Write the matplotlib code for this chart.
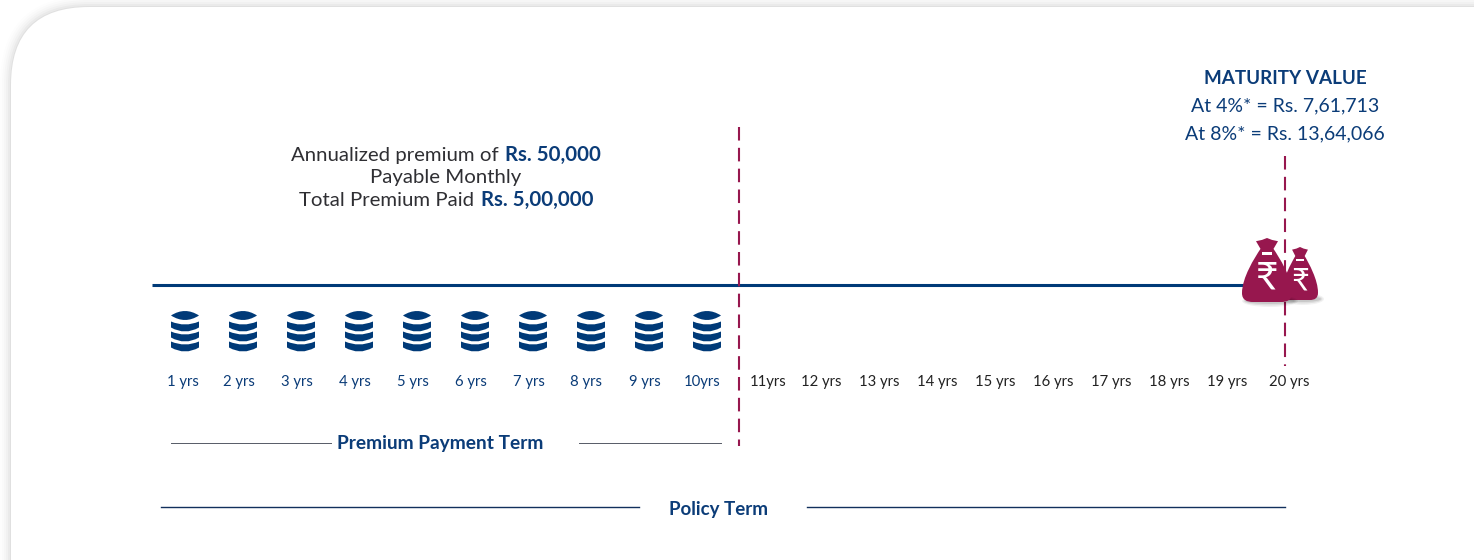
import matplotlib
matplotlib.use('Agg')
import matplotlib.pyplot as plt
from matplotlib.patches import FancyBboxPatch, PathPatch, Ellipse
from matplotlib.path import Path

years = ['1 yrs', '2 yrs', '3 yrs', '4 yrs', '5 yrs', '6 yrs', '7 yrs', '8 yrs', '9 yrs', '10yrs',
         '11yrs', '12 yrs', '13 yrs', '14 yrs', '15 yrs', '16 yrs', '17 yrs', '18 yrs', '19 yrs', '20 yrs']
premium_years = 10
maturity_lines = ['At 4%* = Rs. 7,61,713', 'At 8%* = Rs. 13,64,066']

NAVY = '#0b3c78'
LINE = '#003a78'
WINE = '#97174e'
GREY = '#2f2f33'

plt.rcParams['font.family'] = ['Lato', 'DejaVu Sans']
fig = plt.figure(figsize=(14.74, 5.6), dpi=100)
ax = fig.add_axes([0, 0, 1, 1])
ax.set_xlim(0, 1474)
ax.set_ylim(560, 0)
ax.axis('off')


def year_x(i):
    return 185 + 58 * i


# card with soft shadow
for grow, alpha in [(11, .006), (9, .01), (7, .014), (5, .02), (3, .028), (1, .04)]:
    ax.add_patch(FancyBboxPatch((11 - grow, 7 - grow), 1700, 800,
                                boxstyle=f'round,pad=0,rounding_size={78 + grow}',
                                lw=0, fc='black', alpha=alpha))
ax.add_patch(FancyBboxPatch((11, 7), 1700, 800, boxstyle='round,pad=0,rounding_size=78', lw=0, fc='white'))


def coins(cx):
    M, Q, E = Path.MOVETO, Path.CURVE3, Path.CLOSEPOLY
    top = [(cx - 14, 315.5), (cx, 306.5), (cx + 14, 315.5), (cx, 324.5), (cx - 14, 315.5), (cx - 14, 315.5)]
    ax.add_patch(PathPatch(Path(top, [M, Q, Q, Q, Q, E]), fc=LINE, lw=0))
    for y0 in (321.5, 331.5, 341.5):
        verts = [(cx - 14, y0), (cx, y0 + 6), (cx + 14, y0), (cx + 14, y0 + 6),
                 (cx, y0 + 14), (cx - 14, y0 + 6), (cx - 14, y0)]
        codes = [M, Q, Q, Path.LINETO, Q, Q, E]
        ax.add_patch(PathPatch(Path(verts, codes), fc=LINE, lw=0))


def bag(cx, top, w, h, size, z):
    # w and h are the overall bag size, neck sits at the top
    s = w / 2
    neck = top + h * .17
    bot = top + h
    M, L, C = Path.MOVETO, Path.LINETO, Path.CURVE4
    verts = [(cx - s * .44, top + h * .05), (cx - s * .2, top + h * .03), (cx, top), (cx + s * .2, top + h * .03),
             (cx + s * .44, top + h * .05), (cx + s * .26, neck),
             (cx + s * .5, neck + h * .14), (cx + s * 1.0, bot - h * .38), (cx + s, bot - h * .14),
             (cx + s, bot - h * .03), (cx + s * .8, bot), (cx + s * .55, bot),
             (cx - s * .55, bot),
             (cx - s * .8, bot), (cx - s, bot - h * .03), (cx - s, bot - h * .14),
             (cx - s * 1.0, bot - h * .38), (cx - s * .5, neck + h * .14), (cx - s * .26, neck),
             (cx - s * .44, top + h * .05)]
    codes = [M, L, L, L, L, L, C, C, C, C, C, C, L, C, C, C, C, C, C, L]
    # shadow under the bag
    for grow, alpha in [(6, .05), (3, .08), (0, .1)]:
        ax.add_patch(Ellipse((cx + 3, bot - 1), w + grow, 6 + grow, fc='black', alpha=alpha, lw=0, zorder=z - .5))
    ax.add_patch(PathPatch(Path(verts, codes), fc=WINE, lw=0, zorder=z))
    ax.add_patch(plt.Rectangle((cx - s * .2, top + h * .22), s * .4, h * .05, fc='white', lw=0, zorder=z + .1))
    ax.text(cx, top + h * .64, '₹', color='white', fontsize=size, ha='center', va='center', zorder=z + .1)


# main timeline
ax.plot([152, 1250], [285, 285], color=LINE, lw=2.2, solid_capstyle='butt', zorder=2)

# dashed markers
dash = (0, (6.5, 3.5))
ax.plot([739, 739], [127, 446], color=WINE, lw=1.5, linestyle=dash, zorder=3)
ax.plot([1285, 1285], [156, 366], color=WINE, lw=1.5, linestyle=dash, zorder=3)

bag(1300, 247, 36, 53, 22, 5)
bag(1267, 238, 50, 64, 28, 6)

# year labels and coins
for i, label in enumerate(years):
    col = NAVY if i < premium_years else '#222222'
    x = year_x(i)
    if i == 0:
        x -= 2
    elif i < premium_years:
        x -= 4.5
    elif label == '11yrs':
        x += 3.5
    elif label == '20 yrs':
        x += 2.5
    else:
        x -= 1.5
    ax.text(x, 382, label, color=col, fontsize=10.7, ha='center', va='center')
    if i < premium_years:
        coins(year_x(i))


def mixed(cx, y, plain, bold):
    # one centred line in two weights
    r = fig.canvas.get_renderer()
    a = ax.text(0, y, plain, color=GREY, fontsize=14.7, va='center', ha='left')
    b = ax.text(0, y, bold, color=NAVY, fontsize=14.7, va='center', ha='left', fontweight='bold')
    wa = a.get_window_extent(r).width
    wb = b.get_window_extent(r).width
    gap = 7
    left = cx - (wa + wb + gap) / 2
    a.set_x(left)
    b.set_x(left + wa + gap)


mixed(446, 155, 'Annualized premium of', 'Rs. 50,000')
ax.text(446, 177, 'Payable Monthly', color=GREY, fontsize=14.7, ha='center', va='center')
mixed(446, 200, 'Total Premium Paid', 'Rs. 5,00,000')

# maturity block
ax.text(1285, 78, 'MATURITY VALUE', color=NAVY, fontsize=13.6, fontweight='bold', ha='center', va='center')
for y, line in zip((106, 134), maturity_lines):
    ax.text(1285, y, line, color=NAVY, fontsize=14, ha='center', va='center')

# term brackets
ax.plot([171, 331], [443, 443], color='#555a66', lw=.7)
ax.plot([579, 721], [443, 443], color='#555a66', lw=.7)
ax.text(440, 443, 'Premium Payment Term', color=NAVY, fontsize=13.8, fontweight='bold', ha='center', va='center')

ax.plot([161, 639], [507, 507], color='#12305c', lw=1)
ax.plot([807, 1285], [507, 507], color='#12305c', lw=1)
ax.text(719, 509, 'Policy Term', color=NAVY, fontsize=13.5, fontweight='bold', ha='center', va='center')

fig.savefig('out.png', dpi=100)
